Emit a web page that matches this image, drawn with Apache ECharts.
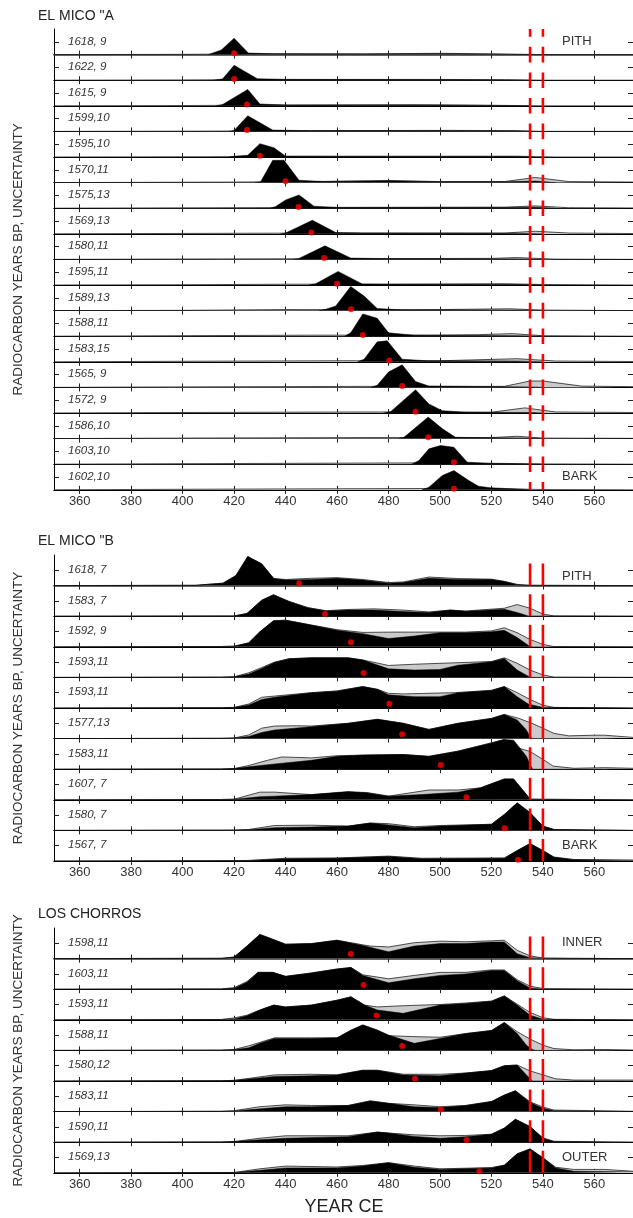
<!DOCTYPE html>
<html>
<head>
<meta charset="utf-8">
<script src="https://cdn.jsdelivr.net/npm/echarts@6/dist/echarts.min.js"></script>
<style>
html, body { margin: 0; padding: 0; background: #fff; }
#chart { width: 633px; height: 1218px; }
</style>
</head>
<body>
<div id="chart"></div>
<script>
// x axis
const yearTicks = [360, 380, 400, 420, 440, 460, 480, 500, 520, 540, 560];
const eventYears = [535, 540];

// ---- EL MICO "A ----
const micoALabels = ['1618, 9', '1622, 9', '1615, 9', '1599,10', '1595,10', '1570,11', '1575,13', '1569,13', '1580,11',
  '1595,11', '1589,13', '1588,11', '1583,15', '1565, 9', '1572, 9', '1586,10', '1603,10', '1602,10'];
const micoABlack = [
  [[410,0],[415,0.18],[420,0.64],[425.5,0.06],[435,0.03],[470,0.02],[500,0.03],[525,0.01],[535,0]],
  [[412,0],[415.5,0.05],[420,0.58],[429,0.06],[440,0.03],[500,0.02],[525,0.01],[535,0]],
  [[413,0],[415.5,0.05],[425.3,0.64],[430,0.07],[440,0.03],[500,0.03],[525,0.01],[535,0]],
  [[418,0],[420,0.04],[425.3,0.61],[435,0.05],[450,0.03],[500,0.03],[530,0.02],[536,0]],
  [[418,0],[420,0.03],[425.3,0.07],[430,0.52],[435.5,0.36],[440,0.03],[460,0.02],[530,0.02],[536,0]],
  [[428,0],[430.3,0.03],[435,0.87],[439.4,0.87],[445.2,0.09],[455,0.04],[480,0.07],[500,0.03],[525,0.03],[537,0.06],[545,0]],
  [[434,0],[436,0.06],[440,0.32],[445.2,0.52],[451,0.08],[460,0.03],[530,0.03],[537,0.04],[545,0]],
  [[438,0],[440,0.03],[450.4,0.53],[459.5,0.05],[470,0.03],[530,0.02],[540,0]],
  [[443,0],[445,0.03],[455.3,0.53],[465.3,0.05],[480,0.03],[530,0.02],[540,0]],
  [[449,0],[451.7,0.05],[460.4,0.53],[469.8,0.04],[480,0.03],[530,0.02],[540,0]],
  [[453,0],[455.6,0.05],[459.5,0.18],[465.3,0.94],[470.5,0.57],[475.6,0.08],[485,0.03],[530,0.02],[540,0]],
  [[463,0],[465.3,0.13],[470,0.87],[475.6,0.7],[480,0.13],[490,0.04],[530,0.02],[540,0]],
  [[468,0],[470.5,0.1],[475.6,0.78],[479.5,0.82],[485.3,0.1],[495,0.04],[530,0.03],[540,0]],
  [[473,0],[475.6,0.08],[480,0.6],[485.3,0.88],[490.5,0.23],[495.7,0.05],[520,0.03],[535,0.02],[540,0]],
  [[478,0],[480.8,0.05],[490.5,0.91],[495.7,0.35],[500.9,0.09],[510,0.03],[535,0.02],[540,0]],
  [[484,0],[486,0.05],[495.4,0.84],[501,0.38],[506,0.05],[520,0.03],[535,0.02],[540,0]],
  [[489,0],[491.8,0.14],[495.7,0.6],[500.2,0.73],[505.4,0.66],[510.6,0.08],[520,0.03],[535,0.01],[540,0]],
  [[493,0],[495.7,0.1],[500.9,0.56],[505.4,0.75],[511.2,0.36],[515,0.14],[519.6,0.08],[530,0.03],[535,0]]
];
const micoAGray = [
  [[350,0],[400,0.01],[430,0.03],[470,0.03],[500,0.05],[520,0.03],[540,0],[575,0]],
  [[350,0],[400,0.01],[440,0.03],[500,0.03],[525,0.02],[540,0],[575,0]],
  [[350,0],[400,0.01],[440,0.03],[490,0.04],[520,0.02],[540,0],[575,0]],
  [[350,0],[410,0.01],[450,0.03],[505,0.04],[530,0.03],[540,0],[575,0]],
  [[350,0],[410,0.01],[450,0.03],[500,0.03],[530,0.03],[545,0],[575,0]],
  [[350,0],[420,0.02],[450,0.04],[480,0.08],[500,0.04],[525,0.04],[537,0.2],[550,0.04],[575,0.02]],
  [[350,0],[420,0.02],[460,0.03],[525,0.04],[537,0.09],[550,0.02],[575,0.01]],
  [[350,0],[420,0.02],[460,0.03],[525,0.03],[537,0.1],[550,0.03],[575,0.01]],
  [[350,0],[420,0.02],[470,0.03],[520,0.04],[530,0.07],[545,0.01],[575,0]],
  [[350,0],[400,0.01],[440,0.03],[480,0.03],[525,0.05],[540,0.02],[575,0]],
  [[350,0],[400,0.01],[440,0.04],[490,0.03],[527,0.07],[540,0.02],[575,0]],
  [[350,0],[400,0.02],[450,0.04],[495,0.04],[515,0.06],[528,0.1],[540,0.02],[575,0]],
  [[350,0],[400,0.02],[460,0.04],[500,0.04],[530,0.12],[545,0.03],[575,0.01]],
  [[350,0],[400,0.02],[470,0.04],[525,0.04],[535,0.25],[540,0.25],[555,0.05],[575,0.03]],
  [[350,0],[400,0.02],[470,0.04],[520,0.03],[533,0.2],[545,0.04],[575,0.02]],
  [[350,0],[400,0.02],[470,0.04],[520,0.04],[530,0.09],[540,0.02],[575,0.01]],
  [[350,0],[400,0.02],[460,0.04],[490,0.05],[525,0.03],[540,0.01],[575,0]],
  [[350,0],[400,0.02],[460,0.04],[495,0.05],[530,0.03],[540,0.01],[575,0]]
];
const micoADots = [[420,0.05],[420,0.05],[425,0.05],[425,0.05],[430,0.05],[440,0.05],[445,0.05],[450,0.05],[455,0.05],
  [460,0.05],[465.4,0.05],[470,0.05],[480.3,0.05],[485.3,0.05],[490.5,0.05],[495.4,0.05],[505.4,0.08],[505.4,0.04]];

// ---- EL MICO "B ----
const micoBLabels = ['1618, 7', '1583, 7', '1592, 9', '1593,11', '1593,11', '1577,13', '1583,11', '1607, 7', '1580, 7', '1567, 7'];
const micoBBlack = [
  [[350,0],[405,0.01],[415.7,0.08],[420.7,0.33],[425.3,0.95],[430.7,0.71],[435.4,0.23],[440,0.18],[450,0.2],[460,0.24],[470,0.18],[480,0.08],[485.7,0.1],[495.7,0.24],[507,0.2],[520,0.2],[525,0.13],[530,0.03],[534,0.01],[575,0]],
  [[350,0],[415,0.01],[420,0.01],[425,0.09],[430.7,0.52],[435.3,0.7],[441.4,0.48],[448.6,0.28],[455.7,0.17],[464.3,0.2],[474.3,0.2],[485.7,0.15],[495.7,0.12],[504,0.2],[510,0.16],[525,0.23],[530,0.12],[534.3,0.01],[575,0]],
  [[350,0],[415,0.01],[420,0.02],[425.7,0.13],[430,0.49],[435.3,0.85],[440,0.87],[450,0.71],[460,0.54],[470,0.43],[480,0.27],[490,0.35],[500,0.46],[510,0.46],[520,0.49],[525,0.54],[530,0.3],[534.3,0.05],[536,0],[575,0]],
  [[350,0],[415,0.01],[420,0.02],[425.7,0.11],[430.7,0.29],[435.7,0.49],[441.4,0.61],[450,0.64],[464.3,0.64],[470,0.57],[480,0.28],[490,0.24],[500,0.26],[507,0.4],[520,0.51],[525,0.62],[530,0.24],[534.3,0.04],[536,0],[575,0]],
  [[350,0],[415,0.01],[420,0.02],[425.7,0.1],[430.7,0.28],[435.7,0.35],[450,0.5],[460,0.55],[470,0.7],[475.7,0.61],[480,0.43],[490,0.37],[500,0.37],[507,0.5],[520,0.57],[525,0.7],[530,0.37],[534.3,0.13],[540,0.02],[575,0]],
  [[350,0],[415,0.01],[420,0.02],[425.7,0.07],[430.7,0.2],[435.7,0.28],[450,0.39],[464.3,0.5],[475.7,0.63],[485.7,0.5],[495.7,0.3],[507,0.5],[520,0.66],[525,0.79],[530,0.61],[533.6,0.28],[535,0.06],[536,0],[575,0]],
  [[350,0],[415,0.01],[420,0.02],[425.7,0.08],[435.7,0.17],[450,0.29],[460,0.42],[470,0.46],[485.7,0.48],[495.7,0.42],[507,0.59],[520,0.86],[525,0.97],[528.6,0.95],[533.6,0.42],[535,0.15],[536,0],[575,0]],
  [[350,0],[415,0.01],[420,0.02],[430,0.1],[435.7,0.12],[450,0.17],[464.3,0.27],[471.4,0.23],[480,0.12],[492.9,0.17],[507,0.25],[515.7,0.39],[525,0.68],[528.6,0.68],[533.6,0.17],[535,0.02],[575,0]],
  [[350,0],[420,0.01],[425.7,0.02],[435.7,0.09],[450,0.11],[464.3,0.14],[472.9,0.24],[480,0.18],[490,0.09],[500,0.14],[520,0.2],[525,0.52],[530,0.9],[535,0.58],[540,0.14],[544.3,0.03],[575,0]],
  [[350,0],[420,0.01],[425.7,0.01],[440,0.07],[460,0.09],[480,0.15],[492.9,0.07],[525,0.09],[530,0.34],[535,0.57],[540,0.34],[544.3,0.12],[552,0.04],[575,0.02]]
];
const micoBGray = [
  [[350,0],[405,0.01],[415.7,0.08],[420.7,0.33],[425.3,0.95],[430.7,0.71],[435.4,0.23],[440,0.2],[450,0.24],[460,0.26],[470,0.2],[480,0.1],[485.7,0.12],[495.7,0.28],[507,0.23],[520,0.21],[525,0.14],[530,0.04],[535,0.01],[575,0]],
  [[350,0],[415,0.01],[420,0.01],[425,0.09],[430.7,0.52],[435.3,0.7],[441.4,0.48],[448.6,0.28],[455.7,0.18],[464.3,0.22],[474.3,0.24],[485.7,0.2],[495.7,0.14],[504,0.2],[510,0.17],[525,0.26],[530,0.38],[535,0.26],[540,0.07],[544.3,0.01],[575,0]],
  [[350,0],[415,0.01],[420,0.02],[425.7,0.13],[430,0.49],[435.3,0.85],[440,0.87],[450,0.71],[460,0.56],[470,0.47],[480,0.48],[490,0.48],[500,0.48],[510,0.48],[520,0.52],[525,0.62],[530,0.46],[535,0.24],[540,0.08],[544,0.01],[575,0]],
  [[350,0],[415,0.01],[420,0.02],[425.7,0.15],[430.7,0.32],[435.7,0.5],[441.4,0.61],[450,0.64],[464.3,0.64],[470,0.57],[480,0.39],[490,0.43],[500,0.46],[507,0.48],[520,0.52],[525,0.64],[530,0.46],[535,0.24],[540,0.08],[544.3,0.01],[575,0]],
  [[350,0],[415,0.01],[420,0.02],[425.7,0.13],[430.7,0.35],[435.7,0.39],[450,0.5],[460,0.56],[470,0.7],[475.7,0.61],[480,0.48],[485.7,0.46],[500,0.49],[505.7,0.5],[520,0.58],[525,0.7],[530,0.5],[535,0.28],[540,0.09],[544.3,0.02],[575,0]],
  [[350,0],[415,0.01],[420,0.02],[425.7,0.12],[430.7,0.34],[435.7,0.41],[444.3,0.42],[450,0.41],[464.3,0.5],[475.7,0.63],[485.7,0.5],[495.7,0.3],[507,0.5],[520,0.66],[525,0.79],[530.7,0.66],[535.7,0.5],[540,0.34],[544.3,0.17],[550,0.09],[560,0.11],[564,0.11],[575,0.04]],
  [[350,0],[415,0.01],[420,0.02],[425.7,0.12],[432.9,0.29],[438.6,0.4],[450,0.37],[460,0.44],[470,0.46],[485.7,0.48],[495.7,0.42],[507,0.59],[520,0.86],[525,0.97],[530,0.7],[535,0.58],[540,0.32],[544,0.1],[552,0.03],[564,0.05],[575,0.03]],
  [[350,0],[415,0.01],[420,0.02],[430,0.25],[435.7,0.25],[450,0.17],[464.3,0.25],[471.4,0.24],[480,0.12],[495.7,0.32],[507,0.32],[515.7,0.39],[525,0.68],[528.6,0.68],[533.6,0.17],[535,0.02],[575,0]],
  [[350,0],[420,0.01],[425.7,0.03],[435.7,0.16],[450,0.17],[464.3,0.14],[472.9,0.24],[480,0.22],[490,0.12],[500,0.16],[520,0.2],[525,0.52],[530,0.9],[535,0.58],[540,0.14],[544.3,0.03],[575,0]],
  [[350,0],[420,0.01],[425.7,0.02],[440,0.09],[460,0.1],[480,0.16],[492.9,0.09],[525,0.1],[530,0.34],[535,0.57],[540,0.34],[544.3,0.13],[552,0.05],[575,0.03]]
];
const micoBDots = [[445.3,0.08],[455.3,0.07],[465.4,0.15],[470.3,0.14],[480.3,0.14],[485.3,0.14],[500.3,0.14],[510.3,0.08],[525.1,0.07],[530.3,0.04]];

// ---- LOS CHORROS ----
const chorrosLabels = ['1598,11', '1603,11', '1593,11', '1588,11', '1580,12', '1583,11', '1590,11', '1569,13'];
const chorrosBlack = [
  [[350,0],[415,0.01],[420,0.05],[425,0.41],[430,0.79],[435,0.63],[440,0.47],[450,0.49],[460,0.6],[470,0.43],[480,0.22],[490,0.41],[500,0.49],[510,0.49],[520,0.54],[525,0.54],[530,0.16],[535,0.03],[540,0.01],[575,0]],
  [[350,0],[415,0.01],[420,0.03],[425,0.23],[429.3,0.55],[435,0.55],[440,0.42],[450,0.53],[460,0.66],[465.4,0.71],[470,0.45],[480,0.21],[490,0.34],[500,0.45],[510,0.5],[520,0.61],[525,0.61],[530,0.28],[535,0.04],[540,0],[575,0]],
  [[350,0],[415,0.01],[420,0.03],[425,0.13],[430,0.32],[435.4,0.48],[440,0.42],[450,0.48],[460,0.64],[465.4,0.75],[470.7,0.48],[475.7,0.32],[485.7,0.21],[500,0.48],[510,0.53],[520,0.61],[525,0.78],[530,0.48],[535,0.15],[540,0.02],[575,0]],
  [[350,0],[415,0.01],[420,0.02],[425.7,0.09],[430,0.23],[435.7,0.39],[450,0.39],[460,0.41],[465.4,0.66],[470,0.83],[475.7,0.66],[480,0.5],[490,0.23],[500,0.39],[510,0.55],[520,0.65],[525,0.91],[530,0.55],[533.6,0.17],[535.7,0.04],[537,0],[575,0]],
  [[350,0],[415,0.01],[420,0.02],[435.7,0.15],[450,0.17],[460,0.2],[470,0.35],[475.7,0.35],[485.7,0.2],[500,0.17],[510,0.26],[520,0.34],[525,0.5],[530,0.52],[533.6,0.2],[535,0.07],[536,0],[575,0]],
  [[350,0],[415,0.01],[420,0.02],[430,0.09],[440,0.16],[450,0.16],[464.3,0.2],[472.9,0.35],[480,0.27],[490,0.16],[500,0.13],[510,0.2],[520,0.33],[525,0.54],[529.3,0.68],[535,0.3],[540,0.11],[544.3,0.03],[575,0]],
  [[350,0],[415,0.01],[420,0.02],[430,0.08],[440,0.13],[464.3,0.18],[475.7,0.33],[480,0.3],[490,0.19],[500,0.13],[510,0.18],[520,0.26],[525,0.46],[529.3,0.75],[535,0.51],[540,0.13],[544.3,0.02],[575,0]],
  [[350,0],[415,0.01],[420,0.01],[430,0.08],[440,0.16],[460,0.16],[470,0.22],[480,0.33],[490,0.18],[500,0.11],[520,0.16],[525,0.25],[530,0.62],[535,0.78],[540,0.49],[545,0.16],[552,0.05],[575,0.03]]
];
const chorrosGray = [
  [[350,0],[415,0.01],[420,0.05],[425,0.41],[430,0.79],[435,0.63],[440,0.47],[450,0.49],[460,0.6],[470,0.45],[472.9,0.41],[480,0.38],[490,0.52],[500,0.57],[510,0.55],[520,0.58],[525,0.6],[530,0.27],[535,0.09],[540,0.02],[550,0.01],[575,0]],
  [[350,0],[415,0.01],[420,0.05],[425,0.25],[429.3,0.55],[435,0.55],[440,0.42],[450,0.53],[460,0.66],[465.4,0.71],[470,0.47],[480,0.34],[490,0.45],[500,0.55],[510,0.55],[520,0.63],[525,0.63],[530,0.31],[535,0.1],[540,0.02],[575,0]],
  [[350,0],[415,0.01],[420,0.06],[425,0.15],[430,0.32],[435.4,0.48],[440,0.42],[450,0.48],[460,0.64],[465.4,0.75],[470.7,0.48],[475.7,0.42],[485.7,0.46],[500,0.5],[510,0.55],[520,0.61],[525,0.78],[530,0.51],[535,0.24],[540,0.07],[544.3,0.01],[575,0]],
  [[350,0],[415,0.01],[420,0.03],[425.7,0.15],[430.7,0.28],[435.7,0.41],[450,0.41],[460,0.41],[465.4,0.66],[470,0.83],[475.7,0.66],[480,0.48],[490,0.45],[500,0.43],[510,0.55],[520,0.65],[525,0.91],[530,0.61],[535,0.37],[540,0.17],[544.3,0.06],[552,0.02],[564,0.03],[575,0.01]],
  [[350,0],[415,0.01],[420,0.02],[435.7,0.2],[450,0.22],[460,0.2],[470,0.35],[475.7,0.35],[485.7,0.22],[500,0.22],[510,0.26],[520,0.34],[525,0.5],[530,0.52],[535,0.33],[540,0.2],[545,0.07],[552,0.03],[575,0.03]],
  [[350,0],[415,0.01],[420,0.03],[430,0.16],[440,0.22],[450,0.2],[464.3,0.2],[472.9,0.35],[480,0.27],[490,0.22],[500,0.16],[510,0.2],[520,0.33],[525,0.54],[529.3,0.68],[535,0.32],[540,0.15],[544.3,0.05],[575,0.01]],
  [[350,0],[415,0.01],[420,0.02],[430,0.13],[440,0.21],[464.3,0.21],[475.7,0.33],[480,0.3],[490,0.24],[500,0.21],[510,0.22],[520,0.26],[525,0.46],[529.3,0.75],[535,0.51],[540,0.14],[544.3,0.03],[575,0]],
  [[350,0],[415,0.01],[420,0.01],[430,0.13],[440,0.22],[460,0.19],[470,0.24],[480,0.33],[490,0.22],[500,0.13],[520,0.17],[525,0.25],[530,0.62],[535,0.78],[540,0.49],[545,0.18],[552,0.11],[564,0.11],[575,0.05]]
];
const chorrosDots = [[465.3,0.15],[470.3,0.14],[475.3,0.14],[485.3,0.14],[490.3,0.07],[500.3,0.07],[510.3,0.07],[515.3,0.05]];

// ---- layout ----
const FONT = '"Liberation Sans", Arial, sans-serif';
const X_MIN = 350, X_MAX = 575;
const PLOT_LEFT = 54, PLOT_W = 580.5;

const panels = [
  { title: 'EL MICO "A', titleY: 17, top: 29, rowH: 25.6, labels: micoALabels, black: micoABlack, gray: micoAGray, dots: micoADots,
    tags: ['PITH', 'BARK'], tagShift: [0, 0], dash: [7.8, 10] },
  { title: 'EL MICO "B', titleY: 542, top: 555, rowH: 30.6, labels: micoBLabels, black: micoBBlack, gray: micoBGray, dots: micoBDots,
    tags: ['PITH', 'BARK'], tagShift: [7, 0], dash: [22, 8.6] },
  { title: 'LOS CHORROS', titleY: 915, top: 928, rowH: 30.6, labels: chorrosLabels, black: chorrosBlack, gray: chorrosGray, dots: chorrosDots,
    tags: ['INNER', 'OUTER'], tagShift: [0, 0], dash: [22, 8.6] }
];

const grid = [], xAxis = [], yAxis = [], series = [], graphic = [];

panels.forEach(p => {
  const n = p.labels.length;
  p.labels.forEach((lab, i) => {
    const g = grid.length;
    const isLast = i === n - 1;
    grid.push({ left: PLOT_LEFT, top: p.top + i * p.rowH, width: PLOT_W, height: p.rowH });
    const xBase = {
      gridIndex: g, type: 'value', min: X_MIN, max: X_MAX,
      axisLine: { show: true, lineStyle: { color: '#000', width: 1 } },
      axisTick: { show: true, inside: true, length: 4, customValues: yearTicks, lineStyle: { color: '#222' } },
      splitLine: { show: false }
    };
    xAxis.push(Object.assign({}, xBase, {
      position: 'bottom',
      axisLabel: { show: isLast, customValues: yearTicks, color: '#333', fontSize: 13, fontFamily: FONT, margin: 5 }
    }));
    xAxis.push(Object.assign({}, xBase, {
      position: 'top', axisLabel: { show: false },
      axisLine: { show: true, lineStyle: { color: i === 0 ? '#333' : '#000', width: i === 0 ? 1.6 : 1 } }
    }));
    const yBase = {
      gridIndex: g, type: 'value', min: 0, max: 1,
      axisLine: { show: true, lineStyle: { color: '#000', width: 1 } },
      axisTick: { show: true, inside: true, length: 5, customValues: [0.5], lineStyle: { color: '#222' } },
      axisLabel: { show: false }, splitLine: { show: false }
    };
    yAxis.push(Object.assign({}, yBase, { position: 'left' }));
    yAxis.push(Object.assign({}, yBase, { position: 'right' }));
    const xi = g * 2, yi = g * 2;

    series.push({
      type: 'line', xAxisIndex: xi, yAxisIndex: yi, data: p.gray[i], symbol: 'none', silent: true,
      lineStyle: { color: '#222', width: 0.8 }, areaStyle: { color: '#cacaca', opacity: 1 }, z: 2
    });
    series.push({
      type: 'line', xAxisIndex: xi, yAxisIndex: yi, data: p.black[i], symbol: 'none', silent: true,
      lineStyle: { color: '#000', width: 0.5 }, areaStyle: { color: '#000', opacity: 1 }, z: 3
    });
    series.push({
      type: 'scatter', xAxisIndex: xi, yAxisIndex: yi, data: [p.dots[i]], symbolSize: 6, silent: true,
      itemStyle: { color: '#ff0000' }, z: 5
    });
    // red event lines, dashed per row starting at the row's baseline
    eventYears.forEach(yr => {
      series.push({
        type: 'line', xAxisIndex: xi, yAxisIndex: yi, data: [[yr, 0], [yr, 1]], symbol: 'none', silent: true,
        lineStyle: { color: '#ff0000', width: 2.6, type: p.dash, dashOffset: 0 }, z: 6
      });
    });

    const cy = p.top + (i + 0.5) * p.rowH;
    graphic.push({
      type: 'text', left: 68, top: cy - 6.5,
      style: { text: lab, fill: '#333', font: 'italic 11.5px ' + FONT }
    });
    if (i === 0 || isLast) {
      const k = i === 0 ? 0 : 1;
      graphic.push({
        type: 'text', left: 562, top: cy - 7 + p.tagShift[k],
        style: { text: p.tags[k], fill: '#333', font: '13px ' + FONT }
      });
    }
  });

  graphic.push({
    type: 'text', left: 38, top: p.titleY - 8,
    style: { text: p.title, fill: '#222', font: '14px ' + FONT }
  });
  const midY = p.top + n * p.rowH / 2;
  graphic.push({
    type: 'text', x: 18, y: midY, rotation: Math.PI / 2,
    style: { text: 'RADIOCARBON YEARS BP, UNCERTAINTY', fill: '#333', font: '13.5px ' + FONT, align: 'center', verticalAlign: 'middle' }
  });
});

graphic.push({
  type: 'text', x: 344, y: 1207,
  style: { text: 'YEAR CE', fill: '#222', font: '18px ' + FONT, align: 'center', verticalAlign: 'middle' }
});

const chart = echarts.init(document.getElementById('chart'));
chart.setOption({
  animation: false,
  backgroundColor: '#fff',
  grid, xAxis, yAxis, series, graphic
});
</script>
</body>
</html>
